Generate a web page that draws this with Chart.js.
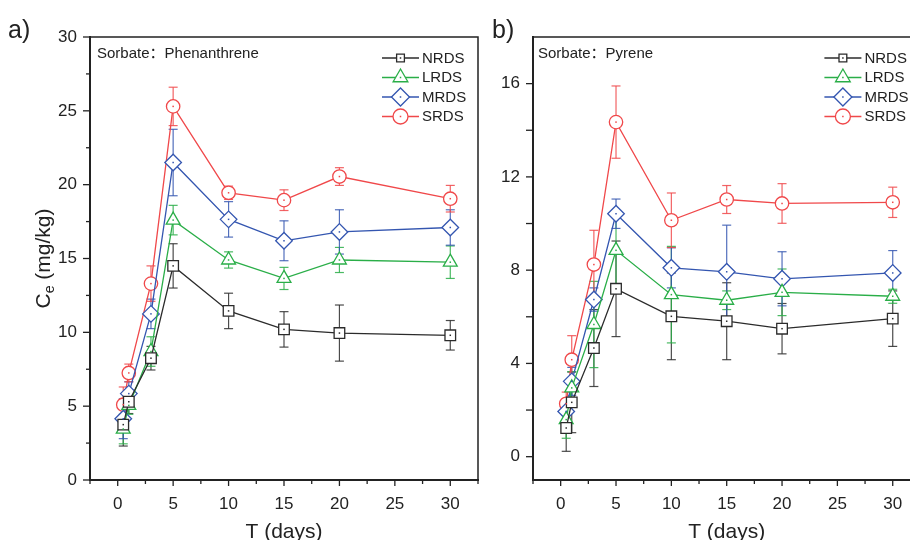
<!DOCTYPE html>
<html>
<head>
<meta charset="utf-8">
<script src="https://cdn.jsdelivr.net/npm/chart.js@4.4.1/dist/chart.umd.min.js"></script>
<style>
  html, body { margin: 0; padding: 0; background: #fff; }
  body { width: 910px; height: 540px; overflow: hidden; position: relative; }
  canvas { position: absolute; top: 0; }
  #chartPhen { left: 0; }
  #chartPyr  { left: 490px; }
</style>
</head>
<body>
<canvas id="chartPhen" width="490" height="540"></canvas>
<canvas id="chartPyr" width="440" height="540"></canvas>
<script>
// ─── Data ────────────────────────────────────────────────────────────────────
const days        = [0.5, 1, 3, 5, 10, 15, 20, 30];
const seriesNames = ['NRDS', 'LRDS', 'MRDS', 'SRDS'];

// a) Phenanthrene – Ce (mg/kg)
const phenNRDS    = [3.75, 5.3, 8.25, 14.5, 11.45, 10.2, 9.95, 9.8];
const phenLRDS    = [3.45, 5.05, 8.7, 17.6, 14.9, 13.65, 14.9, 14.75];
const phenMRDS    = [4.15, 5.85, 11.25, 21.5, 17.65, 16.2, 16.8, 17.1];
const phenSRDS    = [5.1, 7.25, 13.3, 25.3, 19.45, 18.95, 20.55, 19.05];
const phenNRDSErr = [1.45, 0.8, 0.8, 1.5, 1.2, 1.2, 1.9, 1.0];
const phenLRDSErr = [1.0, 0.6, 1.0, 1.0, 0.55, 0.75, 0.85, 1.1];
const phenMRDSErr = [1.35, 0.8, 1.0, 2.25, 1.2, 1.35, 1.5, 1.2];
const phenSRDSErr = [1.2, 0.6, 1.2, 1.3, 0.45, 0.7, 0.6, 0.9];

// b) Pyrene – Ce (mg/kg)
const pyrNRDS     = [1.23, 2.33, 4.66, 7.2, 6.02, 5.81, 5.49, 5.92];
const pyrLRDS     = [1.59, 2.95, 5.67, 8.85, 6.95, 6.71, 7.05, 6.88];
const pyrMRDS     = [1.94, 3.23, 6.74, 10.42, 8.1, 7.93, 7.63, 7.88];
const pyrSRDS     = [2.27, 4.16, 8.24, 14.35, 10.14, 11.03, 10.86, 10.91];
const pyrNRDSErr  = [1.0, 1.3, 1.65, 2.05, 1.86, 1.65, 1.08, 1.19];
const pyrLRDSErr  = [0.8, 0.7, 1.85, 1.6, 2.07, 0.4, 1.0, 0.3];
const pyrMRDSErr  = [0.5, 0.6, 0.5, 0.63, 0.86, 2.0, 1.16, 0.96];
const pyrSRDSErr  = [0.5, 1.03, 1.47, 1.55, 1.17, 0.6, 0.85, 0.65];

// Ticks
const xTickValues = [-2.5, 0, 2.5, 5, 7.5, 10, 12.5, 15, 17.5, 20, 22.5, 25, 27.5, 30, 32.5];
const xTickLabels = [0, 5, 10, 15, 20, 25, 30];
const phenYTicks  = [0, 2.5, 5, 7.5, 10, 12.5, 15, 17.5, 20, 22.5, 25, 27.5, 30];
const phenYLabels = [0, 5, 10, 15, 20, 25, 30];
const pyrYTicks   = [0, 2, 4, 6, 8, 10, 12, 14, 16];
const pyrYLabels  = [0, 4, 8, 12, 16];

// ─── Style ───────────────────────────────────────────────────────────────────
const FONT         = "'Liberation Sans', Arial, sans-serif";
const TITLE_FONT   = "'Liberation Sans', 'Noto Sans CJK SC', sans-serif";
const INK          = '#222';
const seriesColors = ['#2b2b2b', '#2aae48', '#3456b0', '#f0484a'];
const pointStyles  = ['rect', 'triangle', 'rectRot', 'circle'];
const pointSizes   = [7.5, 8, 8.3, 6.7];
const legendSizes  = [5.5, 8.5, 9, 7.5];

// ─── Helpers ─────────────────────────────────────────────────────────────────
function line(ctx, x1, y1, x2, y2) {
  ctx.beginPath(); ctx.moveTo(x1, y1); ctx.lineTo(x2, y2); ctx.stroke();
}

function marker(ctx, style, r, x, y) {
  ctx.beginPath();
  if (style === 'rect') {
    const h = r * Math.SQRT1_2;
    ctx.rect(x - h, y - h, 2 * h, 2 * h);
  } else if (style === 'triangle') {
    ctx.moveTo(x, y - r);
    ctx.lineTo(x + r * 0.866, y + r / 2);
    ctx.lineTo(x - r * 0.866, y + r / 2);
    ctx.closePath();
  } else if (style === 'rectRot') {
    ctx.moveTo(x - r, y); ctx.lineTo(x, y - r); ctx.lineTo(x + r, y); ctx.lineTo(x, y + r);
    ctx.closePath();
  } else {
    ctx.arc(x, y, r, 0, Math.PI * 2);
  }
  ctx.fill(); ctx.stroke();
}

// ─── Plugin: error bars, ticks, frame, texts, legend ────────────────────────
const panelDecor = {
  id: 'panelDecor',

  beforeDatasetsDraw(chart) {
    const { ctx } = chart;
    const ys = chart.scales.y;
    ctx.save();
    chart.data.datasets.forEach((ds, i) => {
      const meta = chart.getDatasetMeta(i);
      ctx.strokeStyle = ds.borderColor;
      ctx.globalAlpha = 0.85;
      ctx.lineWidth = 1.2;
      meta.data.forEach((pt, j) => {
        const v = ds.data[j].y, e = ds.errors[j];
        const yTop = ys.getPixelForValue(v + e);
        const yBot = ys.getPixelForValue(v - e);
        line(ctx, pt.x, yTop, pt.x, yBot);
        line(ctx, pt.x - 4.5, yTop, pt.x + 4.5, yTop);
        line(ctx, pt.x - 4.5, yBot, pt.x + 4.5, yBot);
      });
    });
    ctx.restore();
  },

  afterDatasetsDraw(chart) {
    const { ctx } = chart;
    ctx.save();
    chart.data.datasets.forEach((ds, i) => {
      ctx.fillStyle = ds.borderColor;
      chart.getDatasetMeta(i).data.forEach(pt => ctx.fillRect(pt.x - 0.75, pt.y - 0.75, 1.5, 1.5));
    });
    ctx.restore();
  },

  afterDraw(chart, args, opts) {
    const { ctx, chartArea: a } = chart;
    const xs = chart.scales.x, ys = chart.scales.y;
    ctx.save();
    ctx.strokeStyle = INK;

    // tick marks (major / minor)
    ctx.lineWidth = 1.3;
    xs.ticks.forEach(t => {
      const p = xs.getPixelForValue(t.value);
      const len = xTickLabels.includes(t.value) ? 6 : 4;
      line(ctx, p, a.bottom, p, a.bottom + len);
    });
    ys.ticks.forEach(t => {
      const p = ys.getPixelForValue(t.value);
      const len = opts.yMajor.includes(t.value) || opts.yAllMajor ? 7 : 4;
      line(ctx, a.left - len, p, a.left, p);
    });

    // top / right frame
    ctx.lineWidth = 1.5;
    ctx.beginPath();
    ctx.moveTo(a.left, a.top); ctx.lineTo(a.right, a.top); ctx.lineTo(a.right, a.bottom);
    ctx.stroke();

    ctx.fillStyle = INK;

    // panel letter
    ctx.font = `25px ${FONT}`;
    ctx.textAlign = 'left'; ctx.textBaseline = 'alphabetic';
    ctx.fillText(opts.letter, opts.letterX, 38);

    // sorbate title inside plot
    ctx.font = `15px ${TITLE_FONT}`;
    ctx.fillText(opts.title, a.left + opts.titleDx, 58);

    // x axis title
    ctx.font = `21px ${FONT}`;
    ctx.textAlign = 'center';
    ctx.fillText('T (days)', (a.left + a.right) / 2, 538);

    // y axis title with subscript
    if (opts.yTitle) {
      ctx.save();
      ctx.translate(50, (a.top + a.bottom) / 2);
      ctx.rotate(-Math.PI / 2);
      ctx.textAlign = 'left';
      ctx.font = `21px ${FONT}`;
      const wC = ctx.measureText('C').width;
      const wRest = ctx.measureText(' (mg/kg)').width;
      ctx.font = `14px ${FONT}`;
      const wE = ctx.measureText('e').width;
      const x0 = -(wC + wE + wRest) / 2;
      ctx.font = `21px ${FONT}`;
      ctx.fillText('C', x0, 0);
      ctx.font = `14px ${FONT}`;
      ctx.fillText('e', x0 + wC, 4);
      ctx.font = `21px ${FONT}`;
      ctx.fillText(' (mg/kg)', x0 + wC + wE, 0);
      ctx.restore();
    }

    // legend
    ctx.font = `15px ${FONT}`;
    ctx.textAlign = 'left'; ctx.textBaseline = 'middle';
    chart.data.datasets.forEach((ds, i) => {
      const y = 58 + i * 19.5;
      const x0 = a.right - 96, x1 = a.right - 59, xm = (x0 + x1) / 2;
      ctx.strokeStyle = ds.borderColor;
      ctx.fillStyle = '#fff';
      ctx.lineWidth = 1.3;
      line(ctx, x0, y, x1, y);
      marker(ctx, pointStyles[i], legendSizes[i], xm, y);
      ctx.fillStyle = ds.borderColor;
      ctx.fillRect(xm - 0.75, y - 0.75, 1.5, 1.5);
      ctx.fillStyle = INK;
      ctx.fillText(ds.label, a.right - 56, y + 0.5);
    });

    ctx.restore();
  }
};

// ─── Panel builder ───────────────────────────────────────────────────────────
function buildPanel(canvasId, values, errors, yCfg, decor) {
  const tickFont = { family: FONT, size: 17 };
  return new Chart(document.getElementById(canvasId), {
    type: 'line',
    data: {
      datasets: seriesNames.map((name, i) => ({
        label: name,
        data: days.map((d, j) => ({ x: d, y: values[i][j] })),
        errors: errors[i],
        borderColor: seriesColors[i],
        backgroundColor: '#fff',
        borderWidth: 1.3,
        tension: 0,
        pointStyle: pointStyles[i],
        pointRadius: pointSizes[i],
        pointBackgroundColor: '#fff',
        pointBorderColor: seriesColors[i],
        pointBorderWidth: 1.3,
      }))
    },
    options: {
      responsive: false,
      animation: false,
      events: [],
      layout: { padding: { top: 37, right: yCfg.padRight, left: 0, bottom: 0 } },
      plugins: { legend: { display: false }, tooltip: { enabled: false }, panelDecor: decor },
      scales: {
        x: {
          type: 'linear', min: -2.5, max: 32.5,
          afterBuildTicks: s => { s.ticks = xTickValues.map(v => ({ value: v })); },
          afterFit: s => { s.height = 60; },
          grid: { drawOnChartArea: false, color: 'transparent', tickLength: 6 },
          border: { color: INK, width: 2 },
          ticks: {
            autoSkip: false, maxRotation: 0, padding: 8, color: INK, font: tickFont,
            callback: v => xTickLabels.includes(v) ? String(v) : ''
          }
        },
        y: {
          type: 'linear', min: yCfg.min, max: yCfg.max,
          afterBuildTicks: s => { s.ticks = yCfg.ticks.map(v => ({ value: v })); },
          afterFit: s => { s.width = yCfg.axisWidth; },
          grid: { drawOnChartArea: false, color: 'transparent', tickLength: 7 },
          border: { color: INK, width: 2 },
          ticks: {
            autoSkip: false, padding: 6, color: INK, font: tickFont,
            callback: v => yCfg.labels.includes(v) ? String(v) : ''
          }
        }
      }
    },
    plugins: [panelDecor]
  });
}

// ─── Boot ────────────────────────────────────────────────────────────────────
buildPanel('chartPhen',
  [phenNRDS, phenLRDS, phenMRDS, phenSRDS],
  [phenNRDSErr, phenLRDSErr, phenMRDSErr, phenSRDSErr],
  { min: 0, max: 30, ticks: phenYTicks, labels: phenYLabels, axisWidth: 90, padRight: 12 },
  { letter: 'a)', letterX: 8, title: 'Sorbate：Phenanthrene', titleDx: 7,
    yTitle: true, yMajor: phenYLabels, yAllMajor: false });

buildPanel('chartPyr',
  [pyrNRDS, pyrLRDS, pyrMRDS, pyrSRDS],
  [pyrNRDSErr, pyrLRDSErr, pyrMRDSErr, pyrSRDSErr],
  { min: -1, max: 18, ticks: pyrYTicks, labels: pyrYLabels, axisWidth: 43, padRight: 9 },
  { letter: 'b)', letterX: 2, title: 'Sorbate：Pyrene', titleDx: 5,
    yTitle: false, yMajor: pyrYLabels, yAllMajor: true });
</script>
</body>
</html>
